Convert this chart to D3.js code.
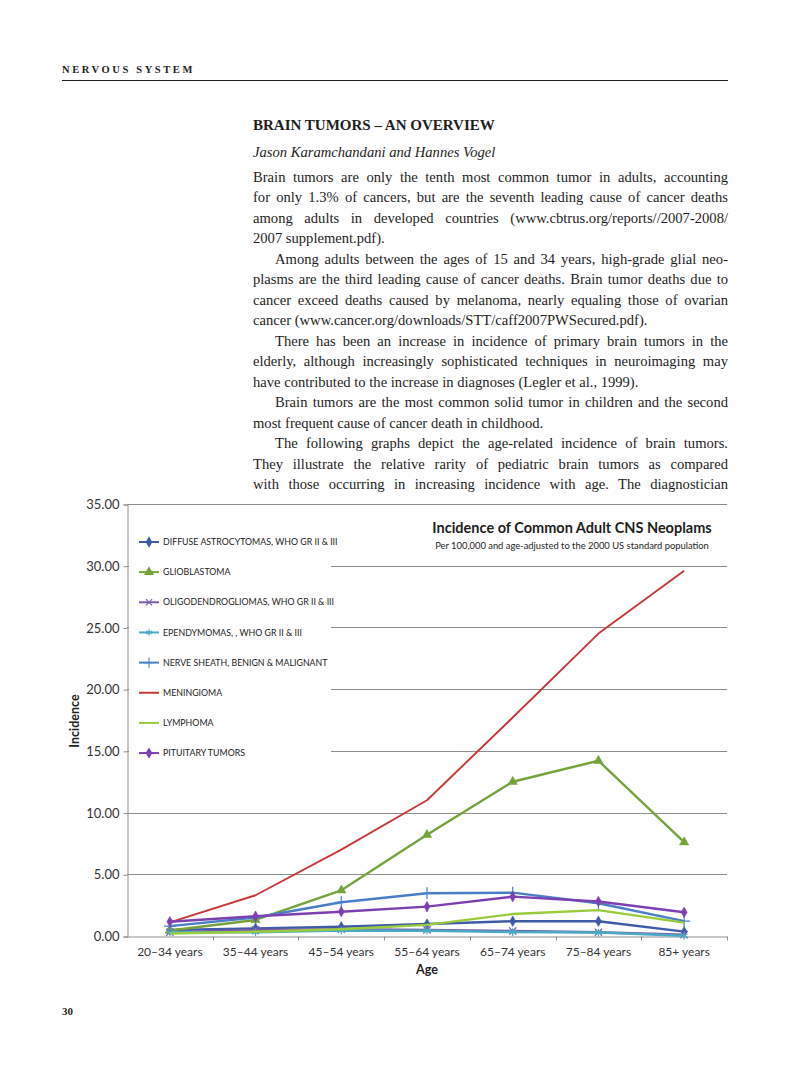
<!DOCTYPE html>
<html>
<head>
<meta charset="utf-8">
<script src="https://cdn.jsdelivr.net/npm/d3@7"></script>
<style>
body { margin: 0; background: #fff; }
svg { display: block; }
.body { font-family: "Liberation Serif", serif; font-size: 14.6px; fill: #1e1e1e; }
.chart text { font-family: Lato, "Open Sans", sans-serif; fill: #333; }
</style>
</head>
<body>
<svg id="page" width="800" height="1073"></svg>
<script>
// chart data
const ageGroups = ["20–34 years", "35–44 years", "45–54 years", "55–64 years", "65–74 years", "75–84 years", "85+ years"];
const diffuseAstro = [0.49, 0.62, 0.75, 0.97, 1.2, 1.2, 0.35];
const glioblastoma = [0.45, 1.3, 3.7, 8.2, 12.5, 14.2, 7.6];
const oligodendro = [0.3, 0.5, 0.55, 0.5, 0.4, 0.3, 0.1];
const ependymomas = [0.3, 0.3, 0.45, 0.43, 0.32, 0.28, 0.02];
const nerveSheath = [0.8, 1.5, 2.73, 3.46, 3.51, 2.65, 1.2];
const meningioma = [1.1, 3.3, 7.0, 11.0, 17.7, 24.5, 29.6];
const lymphoma = [0.2, 0.35, 0.55, 0.9, 1.78, 2.1, 1.08];
const pituitary = [1.16, 1.6, 1.97, 2.38, 3.19, 2.8, 1.92];

const seriesNames = [
    "DIFFUSE ASTROCYTOMAS,  WHO GR II & III",
    "GLIOBLASTOMA",
    "OLIGODENDROGLIOMAS, WHO GR II & III",
    "EPENDYMOMAS, , WHO GR II & III",
    "NERVE SHEATH,  BENIGN  & MALIGNANT",
    "MENINGIOMA",
    "LYMPHOMA",
    "PITUITARY TUMORS"
];
const seriesValues = [diffuseAstro, glioblastoma, oligodendro, ependymomas, nerveSheath, meningioma, lymphoma, pituitary];
const seriesColors = ["#3f5aa6", "#76a23a", "#7a5aa8", "#4aaac4", "#4a7fc8", "#c8383b", "#9acb3c", "#7d40b3"];
const seriesMarkers = ["diamond", "triangle", "times", "asterisk", "plus", null, null, "diamond"];
const yTicks = [0, 5, 10, 15, 20, 25, 30, 35];

// page text
const paragraphs = [
    ["Brain tumors are only the tenth most common tumor in adults, accounting",
     "for only 1.3% of cancers, but are the seventh leading cause of cancer deaths",
     "among adults in developed countries (www.cbtrus.org/reports//2007-2008/",
     "2007 supplement.pdf)."],
    ["Among adults between the ages of 15 and 34 years, high-grade glial neo-",
     "plasms are the third leading cause of cancer deaths. Brain tumor deaths due to",
     "cancer exceed deaths caused by melanoma, nearly equaling those of ovarian",
     "cancer (www.cancer.org/downloads/STT/caff2007PWSecured.pdf)."],
    ["There has been an increase in incidence of primary brain tumors in the",
     "elderly, although increasingly sophisticated techniques in neuroimaging may",
     "have contributed to the increase in diagnoses (Legler et al., 1999)."],
    ["Brain tumors are the most common solid tumor in children and the second",
     "most frequent cause of cancer death in childhood."],
    ["The following graphs depict the age-related incidence of brain tumors.",
     "They illustrate the relative rarity of pediatric brain tumors as compared",
     "with those occurring in increasing incidence with age. The diagnostician"]
];

const svg = d3.select("#page");

// running head
svg.append("text")
    .attr("x", 62).attr("y", 73)
    .style("font-family", "Liberation Serif, serif")
    .style("font-size", "10.5px")
    .style("font-weight", "bold")
    .style("letter-spacing", "2.6px")
    .style("fill", "#1e1e1e")
    .text("NERVOUS SYSTEM");

svg.append("line")
    .attr("x1", 62).attr("x2", 728)
    .attr("y1", 80.5).attr("y2", 80.5)
    .attr("stroke", "#1e1e1e")
    .attr("stroke-width", 1.2);

svg.append("text")
    .attr("x", 253).attr("y", 130)
    .style("font-family", "Liberation Serif, serif")
    .style("font-size", "15px")
    .style("font-weight", "bold")
    .style("fill", "#1e1e1e")
    .text("BRAIN TUMORS – AN OVERVIEW");

svg.append("text")
    .attr("x", 253).attr("y", 157)
    .style("font-family", "Liberation Serif, serif")
    .style("font-size", "14.6px")
    .style("font-style", "italic")
    .style("fill", "#1e1e1e")
    .text("Jason Karamchandani and Hannes Vogel");

// justified body text
const textLeft = 253, textRight = 728, lineH = 20.47;
let lineY = 182;
paragraphs.forEach((para, pi) => {
    para.forEach((line, li) => {
        const indent = (pi > 0 && li === 0) ? 22 : 0;
        const t = svg.append("text")
            .attr("class", "body")
            .attr("x", textLeft + indent)
            .attr("y", lineY)
            .text(line);
        if (li < para.length - 1 || pi === paragraphs.length - 1) {
            const w = t.node().getComputedTextLength();
            const spaces = line.split(" ").length - 1;
            const extra = (textRight - textLeft - indent - w) / spaces;
            t.style("word-spacing", extra + "px");
        }
        lineY += lineH;
    });
});

svg.append("text")
    .attr("x", 62).attr("y", 1015)
    .style("font-family", "Liberation Serif, serif")
    .style("font-size", "11px")
    .style("font-weight", "bold")
    .style("fill", "#1e1e1e")
    .text("30");

// chart
const chart = svg.append("g").attr("class", "chart");
const x = d3.scaleBand().domain(ageGroups).range([127, 727]);
const y = d3.scaleLinear().domain([0, 35]).range([936, 504]);
const cx = i => x(ageGroups[i]) + x.bandwidth() / 2;

// gridlines
chart.append("g")
    .selectAll("line")
    .data(yTicks.slice(1))
    .enter()
    .append("line")
    .attr("x1", 127).attr("x2", 727)
    .attr("y1", d => Math.round(y(d)) + 0.5)
    .attr("y2", d => Math.round(y(d)) + 0.5)
    .attr("stroke", "#8f8f8f")
    .attr("stroke-width", 1);

// legend background hides gridlines
chart.append("rect")
    .attr("x", 129).attr("y", 512)
    .attr("width", 202).attr("height", 254)
    .attr("fill", "#fff");

// y axis
const yAxis = chart.append("g")
    .attr("transform", "translate(127.5,0.5)")
    .call(d3.axisLeft(y).tickValues(yTicks).tickSize(4).tickPadding(4).tickFormat(d3.format(".2f")));
yAxis.selectAll("path, line").attr("stroke", "#8f8f8f");
yAxis.selectAll("text").style("font-size", "13px").style("font-family", "Lato, sans-serif").attr("fill", "#333");

// x axis
const xAxis = chart.append("g")
    .attr("transform", "translate(0,936.5)")
    .call(d3.axisBottom(x).tickSize(0).tickPadding(11));
xAxis.select("path").attr("stroke", "#8f8f8f");
xAxis.selectAll("text").style("font-size", "12px").style("font-family", "Lato, sans-serif").attr("fill", "#333");
xAxis.selectAll(".bound")
    .data(ageGroups.slice(1).map(d => x(d)).concat([727]))
    .enter()
    .append("line")
    .attr("class", "bound")
    .attr("x1", d => Math.round(d) + 0.5).attr("x2", d => Math.round(d) + 0.5)
    .attr("y1", 0).attr("y2", 4)
    .attr("stroke", "#8f8f8f");

// axis titles
chart.append("text")
    .attr("transform", "translate(79,721) rotate(-90)")
    .attr("text-anchor", "middle")
    .style("font-size", "12.5px")
    .style("font-weight", "bold")
    .style("fill", "#222")
    .text("Incidence");

chart.append("text")
    .attr("x", 427).attr("y", 974)
    .attr("text-anchor", "middle")
    .style("font-size", "12.5px")
    .style("font-weight", "bold")
    .style("fill", "#222")
    .text("Age");

// chart title
chart.append("text")
    .attr("x", 572).attr("y", 533)
    .attr("text-anchor", "middle")
    .style("font-size", "14.5px")
    .style("font-weight", "bold")
    .style("fill", "#1e1e1e")
    .text("Incidence of Common Adult CNS Neoplams");

chart.append("text")
    .attr("x", 572).attr("y", 549)
    .attr("text-anchor", "middle")
    .style("font-size", "9.4px")
    .style("fill", "#1e1e1e")
    .text("Per 100,000 and age-adjusted  to the 2000 US standard population");

// markers
const symbolTypes = {
    diamond: d3.symbolDiamond,
    triangle: d3.symbolTriangle,
    times: d3.symbolTimes || d3.symbolCross,
    asterisk: d3.symbolAsterisk || d3.symbolCross,
    plus: d3.symbolPlus || d3.symbolCross
};
const symbolSizes = { diamond: 32, triangle: 38, times: 36, asterisk: 42, plus: 48 };
const filledMarker = m => m === "diamond" || m === "triangle";

const line = d3.line()
    .x((d, i) => cx(i))
    .y(d => y(d));

seriesValues.forEach((vals, s) => {
    const g = chart.append("g").attr("class", "series");
    g.append("path")
        .datum(vals)
        .attr("d", line)
        .attr("fill", "none")
        .attr("stroke", seriesColors[s])
        .attr("stroke-width", s === 5 ? 1.9 : 2.4)
        .attr("stroke-linejoin", "round");
    const m = seriesMarkers[s];
    if (m) {
        g.selectAll(".mark")
            .data(vals)
            .enter()
            .append("path")
            .attr("class", "mark")
            .attr("transform", (d, i) => `translate(${cx(i)},${y(d)})`)
            .attr("d", d3.symbol().type(symbolTypes[m]).size(symbolSizes[m]))
            .attr("fill", filledMarker(m) ? seriesColors[s] : "none")
            .attr("stroke", seriesColors[s])
            .attr("stroke-width", filledMarker(m) ? 0.5 : 1.2);
    }
});

// legend
const legend = chart.append("g");
const items = legend.selectAll(".item")
    .data(seriesNames)
    .enter()
    .append("g")
    .attr("class", "item")
    .attr("transform", (d, i) => `translate(139,${542 + i * 30.15})`);

items.append("line")
    .attr("x1", 0).attr("x2", 20)
    .attr("stroke", (d, i) => seriesColors[i])
    .attr("stroke-width", 2);

items.filter((d, i) => seriesMarkers[i])
    .append("path")
    .attr("transform", "translate(10,0)")
    .attr("d", d => {
        const m = seriesMarkers[seriesNames.indexOf(d)];
        return d3.symbol().type(symbolTypes[m]).size(symbolSizes[m] * 0.75)();
    })
    .attr("fill", d => {
        const i = seriesNames.indexOf(d);
        return filledMarker(seriesMarkers[i]) ? seriesColors[i] : "none";
    })
    .attr("stroke", d => seriesColors[seriesNames.indexOf(d)])
    .attr("stroke-width", 1.1);

items.append("text")
    .attr("x", 24)
    .attr("dy", "0.35em")
    .style("font-size", "8.8px")
    .style("fill", "#222")
    .text(d => d);
</script>
</body>
</html>
